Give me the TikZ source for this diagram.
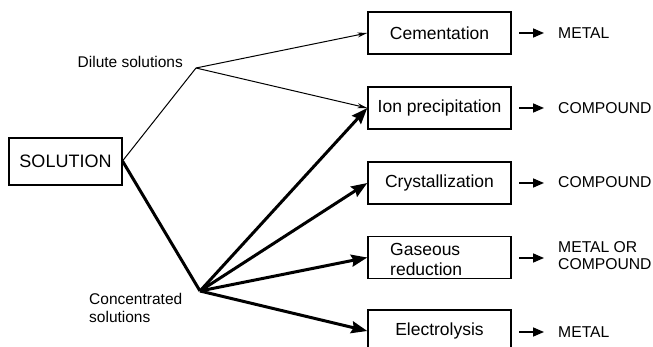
\documentclass[tikz,border=0pt]{standalone}
\usepackage{fontspec}
\setmainfont{Liberation Sans}
\usetikzlibrary{arrows.meta}
\begin{document}
\begin{tikzpicture}[x=1pt,y=-1pt,
  box/.style={draw,line width=1.4pt,minimum width=143pt,minimum height=42pt,inner sep=0pt,
    font=\fontsize{17.5}{21}\selectfont},
  lbl/.style={font=\fontsize{15.7}{17.5}\selectfont,inner sep=0pt,anchor=west,align=left},
  side/.style={font=\fontsize{15.5}{18}\selectfont,inner sep=0pt,align=left},
  thinarr/.style={line width=1pt,-{Stealth[length=10pt,width=5pt]}},
  thickarr/.style={line width=3pt,-{Stealth[length=16pt,width=12pt,inset=2pt]}},
  outarr/.style={line width=1.6pt,-{Triangle[length=11pt,width=9pt]}}]
\useasboundingbox (0,0) rectangle (653,347);
\node[box,minimum width=113pt,minimum height=47pt,font=\fontsize{18}{21}\selectfont] (sol) at (65.5,161.5) {SOLUTION};
\coordinate (dil) at (196,68);
\coordinate (con) at (200,291);
\coordinate (solx) at (122.5,161);
\node[box] (cem) at (439.5,33) {Cementation};
\node[box] (ion) at (439.5,108) {Ion precipitation};
\node[box] (cry) at (439.5,183) {Crystallization};
\node[box] (gas) at (439.5,257.5) {};
\node[font=\fontsize{17.5}{20}\selectfont,inner sep=0pt,align=left,anchor=west] (gastxt) at (390,259) {Gaseous\\reduction};
\node[box] (ele) at (439.5,331) {Electrolysis};
\node[side,anchor=east] (diltxt) at (183,62) {Dilute solutions};
\node[side,anchor=west] (contxt) at (89,308) {Concentrated\\solutions};
\draw[line width=1pt] (solx) -- (dil);
\draw[line width=3pt] (solx) -- (con);
\draw[thinarr] (dil) -- (cem.west);
\draw[thinarr] (dil) -- (ion.west);
\draw[thickarr] (con) -- (ion.west);
\draw[thickarr] (con) -- (cry.west);
\draw[thickarr] (con) -- (gas.west);
\draw[thickarr] (con) -- (ele.west);
\coordinate (a1) at (519,33); \coordinate (b1) at (544,33);
\coordinate (a2) at (519,108); \coordinate (b2) at (544,108);
\coordinate (a3) at (519,183); \coordinate (b3) at (544,183);
\coordinate (a4) at (519,258); \coordinate (b4) at (544,258);
\coordinate (a5) at (519,332); \coordinate (b5) at (544,332);
\draw[outarr] (a1) -- (b1);
\draw[outarr] (a2) -- (b2);
\draw[outarr] (a3) -- (b3);
\draw[outarr] (a4) -- (b4);
\draw[outarr] (a5) -- (b5);
\node[lbl] (r1) at (558,33) {METAL};
\node[lbl] (r2) at (558,108) {COMPOUND};
\node[lbl] (r3) at (558,182) {COMPOUND};
\node[lbl] (r4) at (558,255.5) {METAL OR\\COMPOUND};
\node[lbl] (r5) at (558,332) {METAL};
\end{tikzpicture}
\end{document}
